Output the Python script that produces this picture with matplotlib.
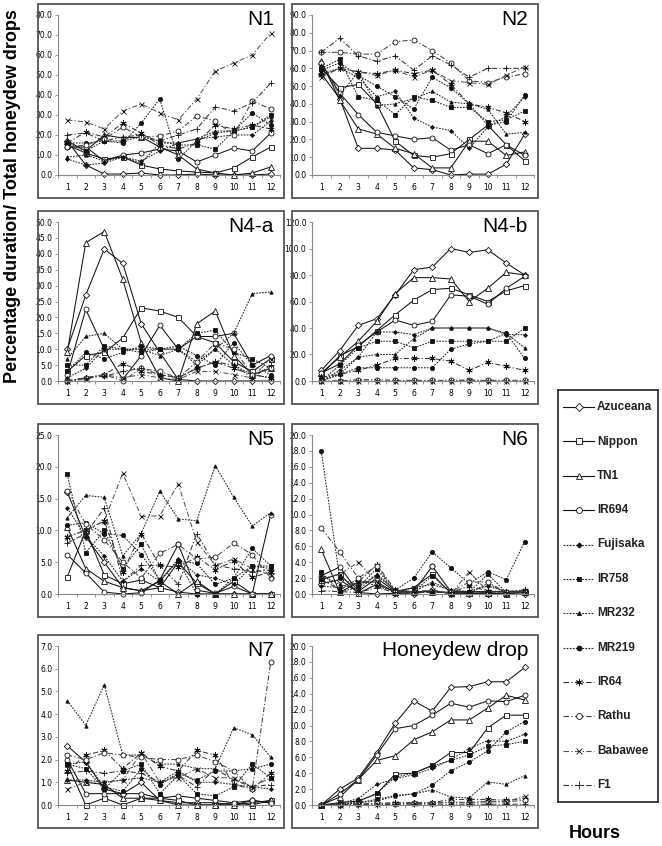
import matplotlib
matplotlib.use("Agg")
import matplotlib.pyplot as plt
from matplotlib.patches import Rectangle
from matplotlib.lines import Line2D
import numpy as np

W, H = 662, 846

hours = list(range(1, 13))
varieties = ["Azuceana", "Nippon", "TN1", "IR694", "Fujisaka", "IR758",
             "MR232", "MR219", "IR64", "Rathu", "Babawee", "F1"]

# ---- data (percent values per hour), order = varieties ----
n1 = [
    [17, 5, 0.5, 0.5, 1, 0, 0, 0.5, 0, 0, 0, 0.5],
    [15, 11, 8, 9, 5, 3, 2, 1.5, 1, 3.5, 9, 14],
    [17, 12, 20, 18.5, 19, 14, 10, 3, 1, 0, 1, 4],
    [14, 14, 7, 10, 11, 13, 12, 6.5, 10, 13.5, 12, 21],
    [8, 5, 6, 9, 7, 12, 16, 18, 19, 20, 20, 27],
    [16, 12, 17, 17, 19, 17, 15, 15, 13, 22, 24, 30],
    [9, 10, 7, 9, 6, 16, 16, 18, 22, 22, 24, 29],
    [16, 16, 17, 16, 26, 38, 8, 17, 21, 22, 31, 25],
    [16, 21.5, 19, 26, 21, 15, 13, 16, 25, 23, 25, 23],
    [14, 15, 18, 24, 19, 19.5, 22, 29.5, 27, 20, 37, 33],
    [27.5, 26.5, 23, 32, 35.5, 31, 27.5, 38, 52, 56, 60, 71],
    [20, 21, 17, 19, 20, 17, 20, 23, 34, 32, 36, 46],
]
n2 = [
    [57, 43, 15, 15, 14, 4, 3, 0, 0.5, 0.5, 6, 23],
    [60, 49, 51, 40, 19, 11, 10, 12, 20, 28, 17, 8],
    [64, 42, 26, 23, 15, 12, 4, 4, 19, 19, 11, 13],
    [63, 46, 34, 24, 22, 20, 21, 14, 17, 12, 17, 11],
    [57, 60, 55, 44, 47, 32, 27, 25, 15, 27, 33, 44],
    [60, 65, 44, 42, 34, 44, 42, 38, 38, 30, 31, 36],
    [62, 45, 58, 39, 40, 43, 47, 41, 40, 37, 23, 24],
    [59, 63, 56, 50, 44, 37, 55, 49, 40, 28, 30, 45],
    [56, 60, 58, 57, 59, 57, 59, 51, 40, 38, 35, 30],
    [69, 69, 68, 68, 75, 76, 70, 63, 53, 52, 55, 57],
    [55, 60, 58, 56, 59, 55, 59, 53, 52, 51, 56, 61],
    [69, 77, 67, 64, 67, 59, 67, 62, 55, 60, 60, 60],
]
n4a = [
    [10, 27, 41.5, 37, 18, 9, 0.5, 0, 0, 0, 0, 0],
    [3, 8, 9, 13.5, 23, 22, 20, 14, 12, 6, 3, 7],
    [9, 43.5, 47, 32, 12, 1, 0, 18, 22, 8, 2, 4],
    [2, 22.5, 10, 0.5, 8, 17.5, 10, 14, 14, 15, 5, 8],
    [1, 4, 10, 10, 10, 10, 10, 6, 10, 5, 2, 1],
    [5, 5, 11, 10, 9, 10, 10, 15, 16, 9, 7, 4],
    [7, 14, 15, 10, 10, 8, 10, 5, 10, 15, 27.5, 28],
    [3, 9, 7, 9, 11, 10, 11, 8, 5, 12, 5, 2],
    [0, 1, 2, 5.5, 3, 2, 1, 4, 6, 4, 2, 1],
    [0, 1, 2, 0, 4, 3, 1, 6, 12, 10, 2, 4],
    [0, 0.5, 2, 1, 2, 1, 0.5, 3, 3, 2, 1, 7],
    [0, 1, 1.5, 3, 4, 2, 1, 4, 6, 5, 1, 5],
]
n4b = [
    [8, 23, 42, 47, 65, 84, 86, 100, 97, 99, 89, 80],
    [5, 19, 26, 38, 50, 61, 69, 70, 65, 60, 68, 72],
    [6, 18, 30, 45, 66, 78, 78, 77, 60, 70, 82, 80],
    [6, 13, 27, 37, 46, 42, 45, 65, 64, 58, 70, 79],
    [0, 8, 18, 37, 37, 35, 40, 40, 40, 40, 35, 35],
    [0, 12, 25, 30, 30, 25, 30, 30, 30, 30, 30, 40],
    [0, 5, 18, 20, 20, 32, 40, 40, 40, 40, 36, 25],
    [0, 5, 10, 10, 10, 10, 10, 24, 28, 30, 36, 17],
    [3, 5, 8, 12, 17, 17, 17, 15, 8, 14, 11, 8],
    [0, 0, 1, 1, 0.5, 0.5, 0.5, 0.5, 0.5, 0.5, 0.5, 0.5],
    [0, 0, 0, 0, 0, 0, 0, 0, 1, 0, 0, 0],
    [0, 0, 0, 0, 0, 0, 0, 0, 0, 0, 0, 0],
]
n5 = [
    [16, 9, 5, 1, 0.5, 1, 0.3, 0, 0, 0, 0, 0],
    [2.7, 10, 3, 1.6, 2.2, 1, 5, 1.7, 0, 2, 0, 0],
    [10.5, 4, 2, 1, 0.5, 2, 0, 2, 0, 0, 0, 0],
    [6.2, 3.3, 0.3, 0, 0.2, 2.2, 7.8, 0.6, 0.1, 1.2, 0, 12.5],
    [13.5, 9, 6, 2, 4, 2, 5.5, 3, 2.5, 1.5, 4.4, 4],
    [18.8, 6.5, 10, 4, 7.8, 2, 5.2, 0, 0, 2.5, 4.4, 4.4],
    [12, 15.5, 15.2, 6, 9.5, 16.2, 11.8, 11.5, 20.2, 15.2, 10.7, 12.8],
    [10.8, 11.2, 9.5, 9.2, 6.2, 2.2, 5.2, 4.8, 1.5, 2.5, 7.2, 4.4],
    [9, 10, 11.5, 3.5, 9.5, 4.5, 4.2, 5.8, 3.8, 5.2, 2.6, 3.5],
    [16.2, 11, 8.5, 5, 2.5, 6.4, 7.8, 5.5, 5.8, 8, 6.2, 2.5],
    [9, 10, 11.5, 19, 12.2, 12.3, 17.3, 8.2, 4.5, 5.5, 4, 3],
    [8, 9.5, 13.5, 2, 4.5, 4.5, 1.5, 9.5, 4.5, 4, 3.5, 3.8],
]
n6 = [
    [1.3, 1.8, 0.2, 0, 0.1, 0, 0.5, 0, 0, 0, 0, 0],
    [1.8, 2.5, 0.1, 1.2, 0.3, 0.8, 2.5, 0.1, 0.1, 0.1, 0, 0.3],
    [5.6, 0.2, 1.5, 1.5, 0.2, 0.3, 0.3, 0.2, 0.1, 0.1, 0.1, 0.2],
    [2.3, 3.4, 0.3, 2.0, 0.3, 0.3, 3.5, 0.3, 0.3, 0.3, 0.3, 0.3],
    [1.0, 0.8, 1.8, 1.0, 0.3, 0.8, 1.2, 0.5, 0.3, 1.0, 0.3, 0.5],
    [2.8, 0.3, 0.8, 3.2, 0.2, 0.3, 2.3, 0.2, 0.2, 2.5, 0.2, 0.3],
    [2.4, 1.2, 0.5, 2.5, 0.5, 0.3, 1.5, 0.5, 0.2, 1.3, 0.2, 0.3],
    [18, 2, 1, 2.3, 0.5, 2, 5.3, 3.3, 1.3, 2.8, 1.8, 6.6],
    [1.8, 0.6, 1.5, 3.7, 0.5, 0.3, 0.3, 0.2, 1.0, 0.4, 0.3, 0.5],
    [8.3, 5.3, 2, 3.5, 0.3, 0.3, 3.5, 0.3, 1.5, 1.5, 0.2, 0.3],
    [2, 2.5, 4, 1.5, 0, 0.3, 0.5, 0, 2.8, 0.3, 0.1, 0.3],
    [0.4, 0.3, 0.2, 0.8, 0.2, 0.2, 0.2, 0.2, 0.2, 0.2, 0.3, 0.3],
]
n7 = [
    [2.6, 1.9, 0.7, 0.5, 1.0, 0.2, 0.1, 0.1, 0.1, 0.0, 0.2, 0.1],
    [1.8, 0.0, 0.3, 0.0, 0.3, 0.3, 0.2, 0.0, 0.0, 0.1, 0.0, 0.2],
    [1.1, 1.0, 0.9, 0.3, 0.3, 0.2, 0.0, 0.0, 0.0, 0.0, 0.1, 0.2],
    [2.0, 0.5, 0.5, 0.5, 0.5, 0.3, 0.4, 0.3, 0.2, 0.1, 0.2, 0.1],
    [1.1, 1.1, 1.0, 1.1, 1.2, 1.0, 1.5, 1.0, 1.0, 0.9, 0.8, 0.7],
    [1.8, 1.6, 0.7, 1.5, 1.8, 0.5, 1.3, 0.5, 0.4, 0.8, 1.8, 1.2],
    [4.6, 3.5, 5.3, 2.2, 2.2, 1.8, 1.8, 1.6, 1.6, 3.4, 3.1, 2.1],
    [1.8, 1.9, 0.8, 0.6, 1.6, 0.9, 1.4, 1.1, 1.5, 1.5, 1.6, 1.8],
    [1.5, 2.2, 2.4, 1.6, 2.3, 1.7, 1.5, 2.4, 2.2, 0.9, 0.7, 1.4],
    [2.2, 2.0, 2.3, 2.2, 2.1, 2.0, 2.0, 2.2, 1.9, 1.5, 0.7, 6.3],
    [0.7, 1.0, 1.0, 1.1, 2.3, 1.0, 1.2, 1.6, 1.2, 1.2, 0.8, 1.2],
    [1.4, 1.5, 1.4, 1.5, 1.4, 1.0, 1.3, 0.8, 1.6, 1.1, 0.8, 0.9],
]
honeydew = [
    [0, 2.0, 3.4, 6.6, 10.3, 13.1, 11.8, 14.8, 14.9, 15.5, 15.5, 17.3],
    [0, 0.3, 0.5, 1.4, 3.9, 4.0, 5.0, 6.6, 6.6, 9.7, 11.3, 11.3],
    [0, 1.0, 3.2, 5.6, 6.2, 8.2, 9.2, 10.7, 10.7, 12.2, 13.8, 13.2],
    [0, 1.4, 3.2, 6.3, 9.6, 10.0, 11.3, 12.8, 12.3, 13.1, 13.0, 13.8],
    [0, 0.2, 0.8, 2.6, 3.3, 3.8, 4.6, 5.7, 7.1, 8.1, 8.0, 8.9],
    [0, 0.1, 0.4, 1.5, 3.5, 4.0, 4.9, 5.6, 6.3, 7.4, 7.6, 8.0],
    [0, 0.1, 0.3, 0.5, 1.1, 1.4, 1.9, 1.0, 0.9, 2.9, 2.6, 3.7],
    [0, 0.0, 0.3, 0.7, 1.2, 1.4, 2.5, 4.3, 5.4, 6.8, 9.2, 10.5],
    [0, 0.0, 0.1, 0.2, 0.3, 0.3, 0.3, 0.7, 0.7, 0.7, 0.6, 0.8],
    [0, 0.0, 0.1, 0.2, 0.1, 0.2, 0.2, 0.4, 0.3, 0.4, 0.4, 0.6],
    [0, 0.0, 0.1, 0.1, 0.2, 0.2, 0.3, 0.3, 0.3, 0.5, 0.4, 1.1],
    [0, 0.0, 0.0, 0.0, 0.1, 0.1, 0.1, 0.1, 0.1, 0.1, 0.1, 0.1],
]

panel_titles = ["N1", "N2", "N4-a", "N4-b", "N5", "N6", "N7", "Honeydew drop"]
panel_data = [n1, n2, n4a, n4b, n5, n6, n7, honeydew]
panel_ymax = [80, 90, 50, 120, 25, 20, 7, 20]
panel_ystep = [10, 10, 5, 20, 5, 2, 1, 2]

# ---- styles ----
SOLID = "-"
DOT = (0, (1.6, 1.2))
DASHDOT = (0, (5, 2, 1.2, 2))
star = (6, 2, 0)
styles = [
    dict(ls=SOLID, marker="D", ms=3.2, mfc="white", color="#111111"),
    dict(ls=SOLID, marker="s", ms=3.6, mfc="white", color="#111111"),
    dict(ls=SOLID, marker="^", ms=3.8, mfc="white", color="#111111"),
    dict(ls=SOLID, marker="o", ms=3.6, mfc="white", color="#111111"),
    dict(ls=DOT, marker="D", ms=2.0, mfc="#111111", color="#222222"),
    dict(ls=DOT, marker="s", ms=2.8, mfc="#111111", color="#222222"),
    dict(ls=DOT, marker="^", ms=2.4, mfc="#111111", color="#222222"),
    dict(ls=DOT, marker="o", ms=3.0, mfc="#111111", color="#222222"),
    dict(ls=DASHDOT, marker=star, ms=4.5, mfc="none", color="#333333"),
    dict(ls=DASHDOT, marker="o", ms=3.6, mfc="white", color="#444444"),
    dict(ls=DASHDOT, marker="x", ms=3.6, mfc="none", color="#555555"),
    dict(ls=DASHDOT, marker="+", ms=4.5, mfc="none", color="#333333"),
]

tick_font = ["Liberation Sans Narrow", "DejaVu Sans"]

fig = plt.figure(figsize=(W / 100, H / 100), dpi=100)


def fx(x):
    return x / W


def fy(y):
    return 1 - y / H


cols = [(38, 284), (292, 538)]
rows = [(4, 198), (211, 404), (424, 617), (635, 828)]

for i, (title, data, ymax, ystep) in enumerate(zip(panel_titles, panel_data, panel_ymax, panel_ystep)):
    r, c = divmod(i, 2)
    bx0, bx1 = cols[c]
    by0, by1 = rows[r]
    # frame box
    fig.add_artist(Rectangle((fx(bx0), fy(by1)), fx(bx1) - fx(bx0), fy(by0) - fy(by1),
                             transform=fig.transFigure, fill=False,
                             edgecolor="#555555", linewidth=1.3))
    ax0, ax1 = bx0 + 20, bx1 - 4
    ay0, ay1 = by0 + 11, by1 - 23
    ax = fig.add_axes([fx(ax0), fy(ay1), fx(ax1) - fx(ax0), fy(ay0) - fy(ay1)])
    for j, series in enumerate(data):
        st = styles[j]
        ax.plot(hours, series, linestyle=st["ls"], color=st["color"], lw=0.75,
                marker=st["marker"], markersize=st["ms"], markerfacecolor=st["mfc"],
                markeredgecolor="#111111", markeredgewidth=0.6, clip_on=False)
    ax.set_xlim(0.5, 12.5)
    ax.set_ylim(0, ymax)
    ax.set_yticks(np.arange(0, ymax + ystep / 2, ystep))
    ax.set_yticklabels([f"{v:.1f}" for v in np.arange(0, ymax + ystep / 2, ystep)],
                       fontsize=5.5, family=tick_font)
    ax.set_xticks(hours)
    ax.set_xticklabels([str(h) for h in hours], fontsize=5.5, family=tick_font)
    ax.set_xticks(np.arange(0.5, 13, 1), minor=True)
    ax.tick_params(axis="x", which="major", length=0, pad=6)
    ax.tick_params(axis="x", which="minor", length=2.5, color="#888888", width=0.6)
    ax.tick_params(axis="y", length=2.5, color="#888888", width=0.6, pad=1.5)
    for s in ["top", "right"]:
        ax.spines[s].set_visible(False)
    for s in ["left", "bottom"]:
        ax.spines[s].set_color("#888888")
        ax.spines[s].set_linewidth(0.8)
    ax.patch.set_alpha(0)
    fig.text(fx(bx1 - 10), fy(by0 + 6), title, ha="right", va="top",
             fontsize=15, family=["Liberation Sans", "DejaVu Sans"])

# y label
fig.text(fx(13), fy(196), "Percentage duration/ Total honeydew drops", rotation=90,
         ha="center", va="center", fontsize=13, fontweight="bold",
         family=["Liberation Sans", "DejaVu Sans"])

# legend box
lx0, lx1, ly0, ly1 = 558, 658, 390, 802
lax = fig.add_axes([fx(lx0), fy(ly1), fx(lx1) - fx(lx0), fy(ly0) - fy(ly1)])
lax.set_xlim(0, 1)
lax.set_ylim(0, 1)
lax.set_xticks([])
lax.set_yticks([])
for s in lax.spines.values():
    s.set_color("#333333")
    s.set_linewidth(1.3)
n = len(varieties)
for j, name in enumerate(varieties):
    yy = 1 - (j + 0.5) / n
    st = styles[j]
    lax.add_line(Line2D([0.05, 0.36], [yy, yy], linestyle=st["ls"], color=st["color"], lw=0.8))
    lax.add_line(Line2D([0.205], [yy], marker=st["marker"], markersize=st["ms"] + 0.6,
                        markerfacecolor=st["mfc"], markeredgecolor="#111111",
                        markeredgewidth=0.6, linestyle="none"))
    lax.text(0.39, yy, name, ha="left", va="center", fontsize=8.5, fontweight="bold",
             color="#222222", family=["Liberation Sans", "DejaVu Sans"])

fig.text(fx(595), fy(833), "Hours", ha="center", va="center", fontsize=13,
         fontweight="bold", family=["Liberation Sans", "DejaVu Sans"])

fig.savefig("out.png", dpi=100)
